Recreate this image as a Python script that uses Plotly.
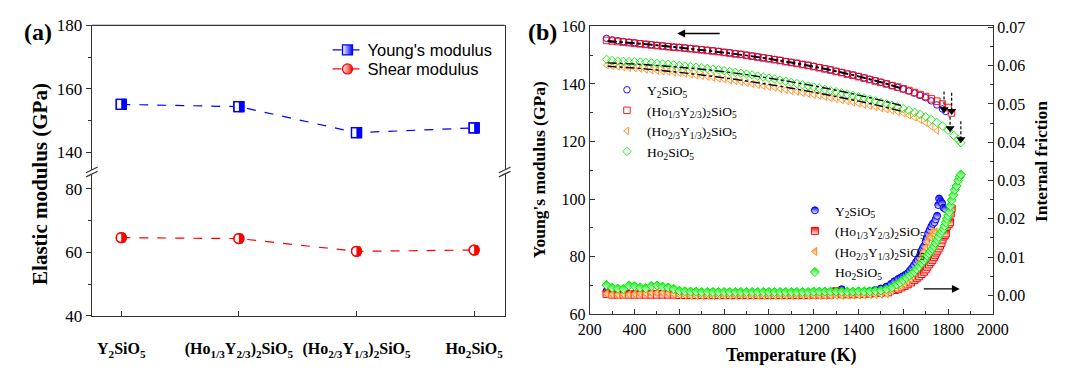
import plotly.graph_objects as go

W, H = 1067, 374
SERIF = "Liberation Serif"
SANS = "Liberation Sans"

# ---------------- Panel (a) data ----------------
compounds = [
    "<b>Y<sub>2</sub>SiO<sub>5</sub></b>",
    "<b>(Ho<sub>1/3</sub>Y<sub>2/3</sub>)<sub>2</sub>SiO<sub>5</sub></b>",
    "<b>(Ho<sub>2/3</sub>Y<sub>1/3</sub>)<sub>2</sub>SiO<sub>5</sub></b>",
    "<b>Ho<sub>2</sub>SiO<sub>5</sub></b>",
]
young_a = [155.1, 154.4, 146.2, 147.7]
shear_a = [64.6, 64.3, 60.3, 60.7]

# ---------------- Panel (b) data ----------------
names_b = [
    "Y<sub>2</sub>SiO<sub>5</sub>",
    "(Ho<sub>1/3</sub>Y<sub>2/3</sub>)<sub>2</sub>SiO<sub>5</sub>",
    "(Ho<sub>2/3</sub>Y<sub>1/3</sub>)<sub>2</sub>SiO<sub>5</sub>",
    "Ho<sub>2</sub>SiO<sub>5</sub>",
]
colors_b = ["#0000FF", "#FF0000", "#FF8A1C", "#00EE00"]

# Young's modulus (GPa) vs temperature (K)
T_E = [275, 300, 325, 350, 375, 400, 425, 450, 475, 500,
       525, 550, 575, 600, 625, 650, 675, 700, 725, 750,
       775, 800, 825, 850, 875, 900, 925, 950, 975, 1000,
       1025, 1050, 1075, 1100, 1125, 1150, 1175, 1200, 1225, 1250,
       1275, 1300, 1325, 1350, 1375, 1400, 1425, 1450, 1475, 1500,
       1525, 1550, 1575, 1600, 1625, 1650, 1675, 1700, 1725, 1750]

E_Y = [155.8, 155.3, 155.0, 154.7, 154.5, 154.3, 154.0, 153.8, 153.6, 153.4,
       153.2, 153.0, 152.8, 152.7, 152.5, 152.3, 152.1, 151.9, 151.7, 151.5,
       151.3, 151.0, 150.8, 150.5, 150.3, 150.0, 149.7, 149.4, 149.1, 148.8,
       148.5, 148.2, 147.8, 147.5, 147.2, 146.8, 146.5, 146.1, 145.7, 145.3,
       144.9, 144.4, 144.0, 143.5, 143.1, 142.6, 142.1, 141.6, 141.1, 140.6,
       140.0, 139.4, 138.8, 138.2, 137.5, 136.8, 136.0, 135.2, 134.1, 132.7]
T_E_Y_tail = [1775, 1790]
E_Y_tail = [131.3, 130.4]

E_H13 = [155.1, 154.9, 154.7, 154.5, 154.3, 154.1, 153.9, 153.7, 153.5, 153.3,
         153.1, 152.9, 152.7, 152.6, 152.4, 152.2, 152.0, 151.8, 151.6, 151.4,
         151.2, 150.9, 150.7, 150.4, 150.2, 149.9, 149.6, 149.3, 149.0, 148.7,
         148.4, 148.1, 147.7, 147.4, 147.1, 146.7, 146.4, 146.0, 145.6, 145.2,
         144.8, 144.3, 143.9, 143.4, 143.0, 142.5, 142.0, 141.5, 141.0, 140.5,
         140.0, 139.4, 138.9, 138.3, 137.7, 137.0, 136.3, 135.6, 134.8, 134.0]
T_E_H13_tail = [1775, 1800, 1815]
E_H13_tail = [133.0, 131.8, 129.9]

E_H23 = [146.5, 146.2, 146.0, 145.8, 145.6, 145.5, 145.3, 145.0, 144.8, 144.6,
         144.4, 144.2, 144.0, 143.8, 143.6, 143.3, 143.0, 142.8, 142.5, 142.2,
         141.9, 141.6, 141.3, 141.0, 140.7, 140.4, 140.0, 139.7, 139.3, 139.0,
         138.7, 138.3, 138.0, 137.6, 137.3, 136.9, 136.6, 136.2, 135.9, 135.5,
         135.1, 134.8, 134.4, 134.0, 133.6, 133.2, 132.8, 132.4, 132.0, 131.6,
         131.2, 130.8, 130.3, 129.8, 129.1, 128.4, 127.5, 126.5, 125.2, 123.8]
T_E_H23_tail = []
E_H23_tail = []

E_Ho = [148.5, 148.1, 147.9, 147.8, 147.7, 147.7, 147.6, 147.5, 147.3, 147.1,
        146.9, 146.8, 146.6, 146.4, 146.2, 146.0, 145.8, 145.6, 145.3, 145.1,
        144.9, 144.6, 144.3, 144.0, 143.7, 143.4, 143.1, 142.7, 142.4, 142.0,
        141.7, 141.3, 140.9, 140.5, 140.1, 139.7, 139.3, 138.9, 138.5, 138.1,
        137.7, 137.3, 136.9, 136.4, 136.0, 135.5, 135.1, 134.6, 134.1, 133.6,
        133.1, 132.6, 132.0, 131.4, 130.8, 130.1, 129.4, 128.6, 127.7, 126.6]
T_E_Ho_tail = [1775, 1800, 1825, 1845, 1857]
E_Ho_tail = [125.4, 123.9, 122.1, 120.7, 119.6]

# Fitted curves (dash-dot)
T_fit = [280, 400, 500, 600, 700, 800, 900, 1000, 1100, 1200, 1300, 1400, 1500, 1590]
fit_Y = [155.0, 154.2, 153.5, 152.7, 151.8, 150.9, 149.9, 148.8, 147.5, 146.1, 144.5, 142.7, 140.7, 138.6]
fit_H13 = [154.8, 154.0, 153.3, 152.5, 151.7, 150.8, 149.8, 148.6, 147.3, 145.9, 144.3, 142.5, 140.5, 138.4]
fit_H23 = [146.1, 145.5, 144.8, 144.0, 143.1, 142.1, 141.0, 139.8, 138.5, 137.1, 135.6, 134.0, 132.3, 130.5]
fit_Ho = [147.3, 146.9, 146.4, 145.8, 145.1, 144.2, 143.2, 142.0, 140.7, 139.3, 137.8, 136.1, 134.3, 132.5]

# Internal friction vs temperature
T_Q = [275, 300, 325, 350, 375, 400, 425, 450, 475, 500,
       525, 550, 575, 600, 625, 650, 675, 700, 725, 750,
       775, 800, 825, 850, 875, 900, 925, 950, 975, 1000,
       1025, 1050, 1075, 1100, 1125, 1150, 1175, 1200, 1225, 1250,
       1275, 1300, 1325, 1350, 1375, 1400, 1425, 1450, 1475, 1500]

Q_Y = [0.0011, 0.0006, 0.0004, 0.0004, 0.0004, 0.0004, 0.0005, 0.0005, 0.0005, 0.0005,
       0.0005, 0.0004, 0.0004, 0.0003, 0.0003, 0.0003, 0.0003, 0.0003, 0.0003, 0.0003,
       0.0003, 0.0003, 0.0003, 0.0003, 0.0003, 0.0003, 0.0003, 0.0003, 0.0003, 0.0003,
       0.0003, 0.0003, 0.0003, 0.0003, 0.0004, 0.0004, 0.0004, 0.0004, 0.0004, 0.0004,
       0.0004, 0.0005, 0.0016, 0.0006, 0.0006, 0.0007, 0.0009, 0.0011, 0.0014, 0.0018]
T_Q_Y_tail = [1525, 1545, 1560, 1577, 1590, 1599, 1610, 1620, 1630, 1639,
              1648, 1657, 1664, 1671, 1677, 1683, 1688, 1693, 1700, 1706,
              1711, 1718, 1725, 1732, 1739, 1745, 1751, 1756, 1760, 1767,
              1773, 1780, 1787]
Q_Y_tail = [0.0023, 0.0030, 0.0037, 0.0043, 0.0047, 0.0050, 0.0054, 0.0058, 0.0065, 0.0071,
            0.0079, 0.0087, 0.0093, 0.0100, 0.0109, 0.0118, 0.0124, 0.0129, 0.0141, 0.0151,
            0.0162, 0.0171, 0.0180, 0.0187, 0.0191, 0.0199, 0.0208, 0.0236, 0.0253, 0.0246,
            0.0241, 0.0229, 0.0226]

Q_H13 = [0.0004, 0.0002, 0.0002, 0.0002, 0.0002, 0.0002, 0.0002, 0.0002, 0.0002, 0.0002,
         0.0002, 0.0002, 0.0002, 0.0001, 0.0001, 0.0001, 0.0001, 0.0001, 0.0001, 0.0001,
         0.0001, 0.0001, 0.0001, 0.0001, 0.0001, 0.0001, 0.0001, 0.0001, 0.0001, 0.0001,
         0.0001, 0.0001, 0.0001, 0.0001, 0.0001, 0.0001, 0.0001, 0.0002, 0.0002, 0.0002,
         0.0002, 0.0011, 0.0003, 0.0003, 0.0003, 0.0004, 0.0004, 0.0005, 0.0006, 0.0007]
T_Q_H13_tail = [1533, 1563, 1578, 1592, 1606, 1620, 1635, 1650, 1660, 1671,
                1682, 1693, 1700, 1707, 1715, 1722, 1730, 1737, 1742, 1747,
                1752, 1758, 1764, 1770, 1775, 1780, 1785, 1790, 1794, 1803,
                1809, 1812, 1816]
Q_H13_tail = [0.0008, 0.0014, 0.0017, 0.0021, 0.0025, 0.0029, 0.0034, 0.0040, 0.0045, 0.0050,
              0.0056, 0.0062, 0.0068, 0.0075, 0.0081, 0.0087, 0.0093, 0.0100, 0.0106, 0.0112,
              0.0117, 0.0123, 0.0130, 0.0137, 0.0146, 0.0154, 0.0158, 0.0162, 0.0180, 0.0186,
              0.0191, 0.0214, 0.0227]

Q_H23 = [0.0005, 0.0003, 0.0002, 0.0003, 0.0003, 0.0004, 0.0005, 0.0006, 0.0007, 0.0007,
         0.0007, 0.0006, 0.0004, 0.0002, 0.0001, 0.0000, 0.0000, 0.0000, 0.0000, 0.0000,
         0.0000, 0.0000, 0.0000, 0.0000, 0.0000, 0.0000, 0.0000, 0.0000, 0.0000, 0.0000,
         0.0000, 0.0000, 0.0000, 0.0000, 0.0000, 0.0000, 0.0000, 0.0000, 0.0000, 0.0000,
         0.0000, 0.0000, 0.0000, 0.0001, 0.0001, 0.0001, 0.0001, 0.0002, 0.0002, 0.0003]
T_Q_H23_tail = [1525, 1548, 1570, 1590, 1606, 1620, 1632, 1642, 1653, 1664,
                1671, 1678, 1686, 1693, 1700, 1707, 1717, 1722, 1729, 1737, 1743]
Q_H23_tail = [0.0005, 0.0012, 0.0018, 0.0024, 0.0029, 0.0036, 0.0043, 0.0050, 0.0060, 0.0071,
              0.0085, 0.0095, 0.0108, 0.0115, 0.0126, 0.0141, 0.0154, 0.0152, 0.0166, 0.0160, 0.0166]

Q_Ho = [0.0027, 0.0020, 0.0018, 0.0017, 0.0026, 0.0024, 0.0021, 0.0019, 0.0025, 0.0026,
        0.0023, 0.0021, 0.0017, 0.0012, 0.0011, 0.0010, 0.0010, 0.0009, 0.0009, 0.0009,
        0.0009, 0.0009, 0.0009, 0.0009, 0.0009, 0.0009, 0.0009, 0.0009, 0.0009, 0.0009,
        0.0009, 0.0009, 0.0009, 0.0009, 0.0009, 0.0009, 0.0009, 0.0010, 0.0010, 0.0010,
        0.0010, 0.0010, 0.0010, 0.0010, 0.0010, 0.0011, 0.0011, 0.0011, 0.0012, 0.0013]
T_Q_Ho_tail = [1525, 1550, 1570, 1585, 1599, 1614, 1628, 1640, 1650, 1660,
               1671, 1682, 1693, 1700, 1707, 1715, 1722, 1730, 1737, 1744,
               1751, 1758, 1766, 1773, 1780, 1785, 1790, 1795, 1800, 1805,
               1810, 1816, 1823, 1830, 1838, 1845, 1852, 1857]
Q_Ho_tail = [0.0016, 0.0021, 0.0029, 0.0034, 0.0040, 0.0046, 0.0052, 0.0058, 0.0062, 0.0069,
             0.0076, 0.0084, 0.0091, 0.0098, 0.0104, 0.0110, 0.0116, 0.0122, 0.0129, 0.0137,
             0.0145, 0.0153, 0.0162, 0.0168, 0.0174, 0.0182, 0.0191, 0.0200, 0.0208, 0.0218,
             0.0234, 0.0249, 0.0262, 0.0276, 0.0286, 0.0300, 0.0310, 0.0316]

# Dashed vertical arrows marking the end of the data (T, start, tip)
arrow_T = [1782, 1816, 1809, 1857]
arrow_top = [137.4, 136.9, 128.6, 127.0]
arrow_tip = [131.2, 130.6, 124.6, 120.8]

# ---------------- helpers ----------------
def fx(x):
    return x / W

def fy(y):
    return 1 - y / H

fig = go.Figure()

# ---- panel (a) traces: half-filled markers (left open, right filled) ----
xa = list(range(len(compounds)))
a_x = [fx(82), fx(506)]
a_range = [-0.25, 3.26]
unit_px = (506 - 82) / (a_range[1] - a_range[0])   # pixels per category step
half = 2.2 / unit_px                                 # offset of a half-marker

def half_marker_series(y, yaxis, color, sym, name, legend):
    fig.add_trace(go.Scatter(
        x=xa, y=y, xaxis="x", yaxis=yaxis, mode="lines+markers",
        name=name, legend=legend,
        line=dict(color=color, width=1.2, dash="dash"),
        marker=dict(symbol=sym, size=10, color="white",
                    gradient=dict(type="horizontal", color=color),
                    line=dict(color=color, width=1.3)),
    ))
    inner = 6 if sym == "square" else 5
    fig.add_trace(go.Scatter(
        x=[v - half for v in xa], y=y, xaxis="x", yaxis=yaxis, mode="markers",
        showlegend=False, hoverinfo="skip",
        marker=dict(symbol="line-ns", size=inner, line=dict(color="white", width=4)),
    ))
    fig.add_trace(go.Scatter(
        x=[v + half for v in xa], y=y, xaxis="x", yaxis=yaxis, mode="markers",
        showlegend=False, hoverinfo="skip",
        marker=dict(symbol="line-ns", size=inner + 2, line=dict(color=color, width=4)),
    ))
    fig.add_trace(go.Scatter(
        x=xa, y=y, xaxis="x", yaxis=yaxis, mode="markers",
        showlegend=False, hoverinfo="skip",
        marker=dict(symbol=sym + "-open", size=10, color=color, line=dict(color=color, width=1.3)),
    ))

half_marker_series(young_a, "y3", "#0000FF", "square", "Young's modulus", "legend")
half_marker_series(shear_a, "y", "#FF0000", "circle", "Shear modulus", "legend4")

# ---- panel (b) Young's modulus (open symbols) ----
E_sets = [
    (T_E + T_E_Y_tail, E_Y + E_Y_tail, "circle-open"),
    (T_E + T_E_H13_tail, E_H13 + E_H13_tail, "square-open"),
    (T_E + T_E_H23_tail, E_H23 + E_H23_tail, "triangle-left-open"),
    (T_E + T_E_Ho_tail, E_Ho + E_Ho_tail, "diamond-open"),
]
for (tx, ey, sym), nm, col in zip(E_sets, names_b, colors_b):
    fig.add_trace(go.Scatter(
        x=tx, y=ey, xaxis="x2", yaxis="y2", mode="markers", name=nm,
        legend="legend2",
        marker=dict(symbol=sym, size=6.5, color=col, line=dict(color=col, width=0.9)),
    ))

for fy_vals in (fit_Y, fit_H13, fit_H23, fit_Ho):
    fig.add_trace(go.Scatter(
        x=T_fit, y=fy_vals, xaxis="x2", yaxis="y2", mode="lines",
        line=dict(color="black", width=1.4, dash="dashdot", shape="spline"),
        showlegend=False, hoverinfo="skip",
    ))

# ---- panel (b) internal friction (half-filled symbols) ----
Q_sets = [
    (T_Q + T_Q_Y_tail, Q_Y + Q_Y_tail, "circle"),
    (T_Q + T_Q_H13_tail, Q_H13 + Q_H13_tail, "square"),
    (T_Q + T_Q_H23_tail, Q_H23 + Q_H23_tail, "triangle-left"),
    (T_Q + T_Q_Ho_tail, Q_Ho + Q_Ho_tail, "diamond"),
]
for (tx, qy, sym), nm, col in zip(Q_sets, names_b, colors_b):
    fig.add_trace(go.Scatter(
        x=tx, y=qy, xaxis="x2", yaxis="y4", mode="markers", name=nm,
        legend="legend3",
        marker=dict(symbol=sym, size=7, color=col,
                    gradient=dict(type="vertical", color="white"),
                    line=dict(color=col, width=1)),
    ))

# dashed vertical arrows
ax_x, ax_y = [], []
for t, a, b in zip(arrow_T, arrow_top, arrow_tip):
    ax_x += [t, t, None]
    ax_y += [a, b, None]
fig.add_trace(go.Scatter(x=ax_x, y=ax_y, xaxis="x2", yaxis="y2", mode="lines",
                         line=dict(color="black", width=1.2, dash="3px,2px"),
                         showlegend=False, hoverinfo="skip"))
fig.add_trace(go.Scatter(x=arrow_T, y=arrow_tip, xaxis="x2", yaxis="y2", mode="markers",
                         marker=dict(symbol="triangle-down", size=8, color="black"),
                         showlegend=False, hoverinfo="skip"))

# ---------------- layout ----------------
def axc(size):
    return dict(showline=True, linecolor="#333333", linewidth=1.3, showgrid=False,
                zeroline=False, tickfont=dict(family=SERIF, size=size, color="black"),
                tickcolor="#333333")

a_bot = [fy(323.3), fy(171.7)]
a_top = [fy(171.7), fy(17.3)]
b_x = [fx(593.3), fx(1007.3)]
b_y = [fy(321.7), fy(18.2)]

leg_common = dict(xanchor="left", yanchor="top", bgcolor="rgba(0,0,0,0)")

fig.update_layout(
    width=W, height=H, margin=dict(l=0, r=0, t=0, b=0),
    paper_bgcolor="white", plot_bgcolor="white",
    xaxis=dict(domain=a_x, anchor="y", range=a_range, tickvals=xa, ticktext=compounds,
               ticks="inside", ticklen=5, ticklabelstandoff=18, **axc(16)),
    yaxis=dict(domain=a_bot, anchor="x", range=[40, 85.25], tickvals=[40, 60, 80],
               ticks="outside", ticklen=5, mirror=True,
               minor=dict(tickvals=[50, 70], ticks="outside", ticklen=3, tickcolor="#333333"),
               **axc(17)),
    yaxis3=dict(domain=a_top, anchor="x", range=[133.8, 180], tickvals=[140, 160, 180],
                ticks="outside", ticklen=5, mirror=True,
                minor=dict(tickvals=[150, 170], ticks="outside", ticklen=3, tickcolor="#333333"),
                **axc(17)),
    xaxis2=dict(domain=b_x, anchor="y2", range=[200, 2000], dtick=200, tick0=200,
                ticks="inside", ticklen=5, mirror=True,
                minor=dict(dtick=100, ticks="inside", ticklen=3, tickcolor="#333333"),
                **axc(16)),
    yaxis2=dict(domain=b_y, anchor="x2", range=[60, 160], dtick=20, tick0=60,
                ticks="inside", ticklen=5,
                minor=dict(dtick=10, ticks="inside", ticklen=3, tickcolor="#333333"),
                **axc(16)),
    yaxis4=dict(overlaying="y2", anchor="x2", side="right", range=[-0.00495, 0.0703],
                dtick=0.01, tick0=0, tickformat=".2f", ticks="inside", ticklen=5,
                minor=dict(dtick=0.005, ticks="inside", ticklen=3, tickcolor="#333333"),
                **axc(16)),
    legend=dict(x=fx(324), y=fy(25), font=dict(family=SANS, size=16.5, color="black"), **leg_common),
    legend4=dict(x=fx(324), y=fy(45), font=dict(family=SANS, size=16.5, color="black"), **leg_common),
    legend2=dict(x=fx(611), y=fy(69), font=dict(family=SERIF, size=13.5, color="black"), **leg_common),
    legend3=dict(x=fx(804), y=fy(196), font=dict(family=SERIF, size=13.5, color="black"), **leg_common),
    showlegend=True,
)

ann = []
ann.append(dict(text="<b>(a)</b>", x=fx(10), y=fy(24), xref="paper", yref="paper",
                xanchor="left", yanchor="middle", showarrow=False,
                font=dict(family=SERIF, size=24, color="black")))
ann.append(dict(text="<b>(b)</b>", x=fx(528), y=fy(24), xref="paper", yref="paper",
                xanchor="left", yanchor="middle", showarrow=False,
                font=dict(family=SERIF, size=24, color="black")))
ann.append(dict(text="<b>Elastic modulus (GPa)</b>", x=fx(28), y=fy(184), xref="paper", yref="paper",
                xanchor="center", yanchor="middle",
                textangle=-90, showarrow=False, font=dict(family=SERIF, size=21, color="black")))
ann.append(dict(text="<b>Young's modulus (GPa)</b>", x=fx(542), y=fy(169), xref="paper", yref="paper",
                xanchor="center", yanchor="middle",
                textangle=-90, showarrow=False, font=dict(family=SERIF, size=17.5, color="black")))
ann.append(dict(text="<b>Internal friction</b>", x=fx(1057), y=fy(161), xref="paper", yref="paper",
                xanchor="center", yanchor="middle",
                textangle=-90, showarrow=False, font=dict(family=SERIF, size=17.5, color="black")))
ann.append(dict(text="<b>Temperature (K)</b>", x=fx(800), y=fy(365), xref="paper", yref="paper",
                xanchor="center", yanchor="middle",
                showarrow=False, font=dict(family=SERIF, size=18, color="black")))
# horizontal arrows indicating the axis of each data group
ann.append(dict(text="", x=591, y=157.5, ax=787, ay=157.5, xref="x2", yref="y2",
                axref="x2", ayref="y2", showarrow=True, arrowhead=2, arrowsize=1.2,
                arrowwidth=1.3, arrowcolor="black"))
ann.append(dict(text="", x=1852, y=0.0017, ax=1685, ay=0.0017, xref="x2", yref="y4",
                axref="x2", ayref="y4", showarrow=True, arrowhead=2, arrowsize=1.2,
                arrowwidth=1.3, arrowcolor="black"))
fig.update_layout(annotations=ann)

# frame top line of panel (a) and axis-break marks
shapes = [dict(type="line", xref="paper", yref="paper", x0=a_x[0], x1=a_x[1],
               y0=a_top[1], y1=a_top[1], line=dict(color="#333333", width=1.3))]
for xb in (82, 506):
    shapes.append(dict(type="line", xref="paper", yref="paper",
                       x0=fx(xb), x1=fx(xb), y0=fy(169.5), y1=fy(173.9),
                       line=dict(color="white", width=4)))
    for dy in (-2.2, 2.2):
        shapes.append(dict(type="line", xref="paper", yref="paper",
                           x0=fx(xb - 6), x1=fx(xb + 6), y0=fy(171.7 + dy + 3), y1=fy(171.7 + dy - 3),
                           line=dict(color="#333333", width=1.2)))
fig.update_layout(shapes=shapes)

fig.write_html("out.html")
